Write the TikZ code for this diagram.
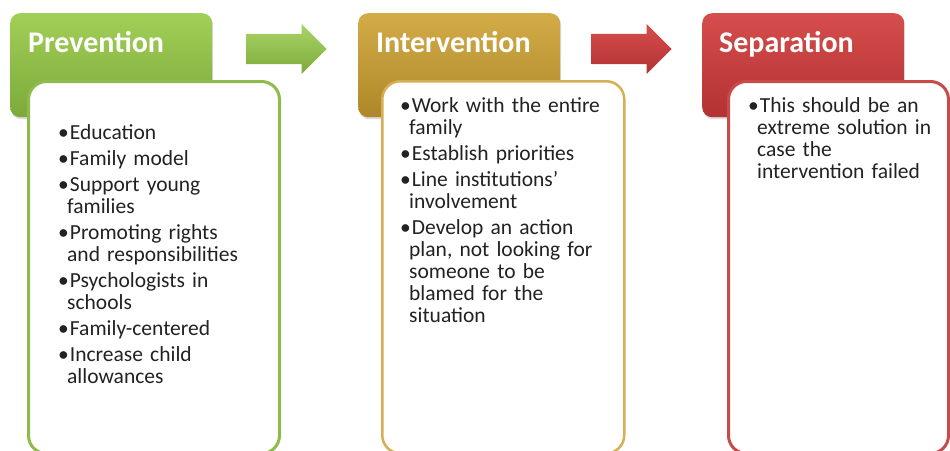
\documentclass[tikz,border=0pt]{standalone}
\usepackage{fontspec}
\setmainfont{Carlito}
\usepackage{enumitem}
\usetikzlibrary{shapes.arrows,shadows}
\definecolor{prevtop}{HTML}{A2CF57}
\definecolor{prevbot}{HTML}{7CAA3A}
\definecolor{prevline}{HTML}{8EBB4C}
\definecolor{inttop}{HTML}{D3AC48}
\definecolor{intbot}{HTML}{AE8828}
\definecolor{intline}{HTML}{D6AE55}
\definecolor{septop}{HTML}{D64D4D}
\definecolor{sepbot}{HTML}{B33232}
\definecolor{sepline}{HTML}{C94A4A}
\definecolor{textgray}{HTML}{222222}
\setlist[itemize]{label=\textbullet,leftmargin=9pt,labelsep=1pt,labelwidth=8pt,align=left,nosep,itemsep=4pt}

\tikzset{
  headbox/.style={rounded corners=10pt, minimum width=202pt, minimum height=104pt,
    anchor=north west, inner sep=0pt,
    drop shadow={opacity=0.3, shadow xshift=1pt, shadow yshift=-2pt}},
  headtext/.style={anchor=base west, inner sep=0pt, text=white,
    font=\fontsize{30}{34}\selectfont\bfseries},
  bodybox/.style={fill=white, rounded corners=18pt, minimum height=372pt,
    anchor=north west, inner sep=0pt, line width=3pt},
  listtext/.style={anchor=north west, inner sep=0pt, text=textgray, align=left,
    font=\fontsize{21.5}{22}\selectfont},
  blockarrow/.style={single arrow, anchor=tip, inner xsep=0pt, inner ysep=15pt, minimum width=50pt,
    minimum height=80pt, single arrow head extend=10pt, draw=none}
}

\begin{document}
\begin{tikzpicture}[x=1pt,y=-1pt]
\useasboundingbox (0,0) rectangle (950,450);
\clip (0,0) rectangle (950,450);
% stage headers
\node [headbox, top color=prevtop, bottom color=prevbot] (prevhead) at (10,13) {};
\node [headbox, top color=inttop, bottom color=intbot] (inthead) at (358,13) {};
\node [headbox, top color=septop, bottom color=sepbot] (sephead) at (702,13) {};
\node [headtext] (prevtitle) at (28,52) {Prevention};
\node [headtext] (inttitle) at (376,52) {Intervention};
\node [headtext] (septitle) at (719,52) {Separation};
% arrows between stages
\node [blockarrow, top color=prevtop!90!white, bottom color=prevbot] (prevarrow) at (327,49) {};
\node [blockarrow, top color=septop, bottom color=sepbot] (intarrow) at (672,49) {};
% content boxes
\node [bodybox, draw=prevline, minimum width=251pt] (prevbody) at (27,80) {};
\node [bodybox, draw=intline, minimum width=242pt, line width=2.5pt] (intbody) at (381,80) {};
\node [bodybox, draw=sepline, minimum width=220pt] (sepbody) at (727,80) {};
% bullet lists
\node [listtext, text width=230pt] (prevlist) at (58,117) {%
\begin{itemize}
\item Education
\item Family model
\item Support young\\families
\item Promoting rights\\and responsibilities
\item Psychologists in\\schools
\item Family-centered
\item Increase child\\allowances
\end{itemize}};
\node [listtext, text width=225pt] (intlist) at (400,90) {%
\begin{itemize}
\item Work with the entire\\family
\item Establish priorities
\item Line institutions'\\involvement
\item Develop an action\\plan, not looking for\\someone to be\\blamed for the\\situation
\end{itemize}};
\node [listtext, text width=210pt] (seplist) at (748,90) {%
\begin{itemize}
\item This should be an\\extreme solution in\\case the\\intervention failed
\end{itemize}};
\end{tikzpicture}
\end{document}
